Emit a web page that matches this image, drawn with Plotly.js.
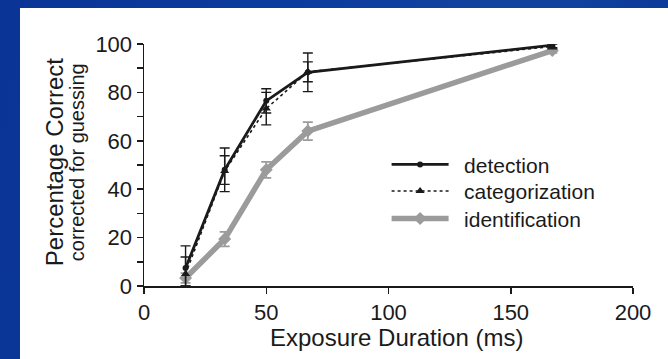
<!DOCTYPE html>
<html>
<head>
<meta charset="utf-8">
<script src="https://cdn.plot.ly/plotly-3.0.1.min.js"></script>
<style>
  html, body { margin:0; padding:0; width:668px; height:359px; overflow:hidden;
    background: linear-gradient(100deg, #0a3596 0%, #0d3a9e 40%, #14439f 70%, #0b3798 100%); }
  #chart { position:absolute; left:20px; top:8px; width:648px; height:351px; background:#fff; }
</style>
</head>
<body>
<div id="chart"></div>
<script>
// Data
var durations = [17, 33, 50, 67, 167];

var detection = [7.4, 48, 76.5, 88.3, 99.5];
var detectionErrPlus = [9.2, 9, 5, 8, 1];
var detectionErrMinus = [7.4, 9, 5, 8, 1];

var categorization = [5, 47.5, 73.3, 88.5, 99];
var categorizationErrPlus = [7, 6.3, 6.7, 4.1, 1];
var categorizationErrMinus = [5, 5.5, 6.7, 4.1, 1];

var identification = [3.3, 19.4, 48, 64, 97.3];
var identificationErr = [2, 3, 3.3, 3.7, 1];

var seriesNames = ['detection', 'categorization', 'identification'];
var xTicks = [0, 50, 100, 150, 200];
var yTicks = [0, 20, 40, 60, 80, 100];
var xTitle = 'Exposure Duration (ms)';
var yTitle = 'Percentage Correct';
var ySubtitle = 'corrected for guessing';

var font = 'Liberation Sans, Arial, sans-serif';
var ink = '#1a1a1a';
var gray = '#9b9b9b';
var pad = '\u2002';

var traces = [
  {
    x: durations, y: identification, name: pad + seriesNames[2], type: 'scatter', mode: 'lines+markers',
    legend: 'legend3',
    line: {color: gray, width: 5.5},
    marker: {symbol: 'diamond', size: 10, color: gray},
    error_y: {type: 'data', array: identificationErr, visible: true, color: gray, thickness: 1.8, width: 5}
  },
  {
    x: durations, y: categorization, name: pad + seriesNames[1], type: 'scatter', mode: 'lines+markers',
    legend: 'legend2',
    line: {color: ink, width: 1.6, dash: '3px,3px'},
    marker: {symbol: 'triangle-up', size: 8, color: ink},
    error_y: {type: 'data', symmetric: false, array: categorizationErrPlus, arrayminus: categorizationErrMinus,
              visible: true, color: ink, thickness: 1.4, width: 5}
  },
  {
    x: durations, y: detection, name: pad + seriesNames[0], type: 'scatter', mode: 'lines+markers',
    legend: 'legend',
    line: {color: ink, width: 2.8},
    marker: {symbol: 'circle', size: 6, color: ink},
    error_y: {type: 'data', symmetric: false, array: detectionErrPlus, arrayminus: detectionErrMinus,
              visible: true, color: ink, thickness: 1.4, width: 5}
  }
];

function legendAt(y) {
  return {
    x: 0.4961, y: y, xanchor: 'left', yanchor: 'middle',
    bgcolor: 'rgba(0,0,0,0)',
    font: {family: font, size: 21, color: ink},
    itemwidth: 57
  };
}

var layout = {
  width: 648, height: 351,
  margin: {l: 124.3, r: 35.3, t: 36.3, b: 72.7},
  paper_bgcolor: '#ffffff', plot_bgcolor: '#ffffff',
  font: {family: font, color: ink, size: 22},
  showlegend: true,
  legend: legendAt(0.501),
  legend2: legendAt(0.391),
  legend3: legendAt(0.277),
  xaxis: {
    range: [0, 200], tickvals: xTicks, ticktext: xTicks.map(String),
    showgrid: false, zeroline: false, showline: true, linecolor: ink, linewidth: 1.5,
    ticks: 'outside', ticklen: 6, tickwidth: 1.5, tickcolor: ink,
    tickfont: {family: font, size: 22, color: ink},
    fixedrange: true
  },
  yaxis: {
    range: [0, 100], tickvals: yTicks, ticktext: yTicks.map(String),
    showgrid: false, zeroline: false, showline: true, linecolor: ink, linewidth: 1.5,
    ticks: 'outside', ticklen: 6, tickwidth: 1.5, tickcolor: ink,
    minor: {tickvals: [10, 30, 50, 70, 90], ticks: 'outside', ticklen: 6, tickwidth: 1.5, tickcolor: ink, showgrid: false},
    tickfont: {family: font, size: 22, color: ink},
    fixedrange: true
  },
  annotations: [
    {text: xTitle, xref: 'paper', yref: 'paper', x: 0.517, y: -0.2136, xanchor: 'center', yanchor: 'middle',
     showarrow: false, font: {family: font, size: 24, color: ink}},
    {text: yTitle, xref: 'paper', yref: 'paper', x: -0.1828, y: 0.51, xanchor: 'center', yanchor: 'middle',
     textangle: -90, showarrow: false, font: {family: font, size: 24, color: ink}},
    {text: ySubtitle, xref: 'paper', yref: 'paper', x: -0.1378, y: 0.51, xanchor: 'center', yanchor: 'middle',
     textangle: -90, showarrow: false, font: {family: font, size: 20, color: ink}}
  ]
};

Plotly.newPlot('chart', traces, layout, {displayModeBar: false, staticPlot: true});
</script>
</body>
</html>
